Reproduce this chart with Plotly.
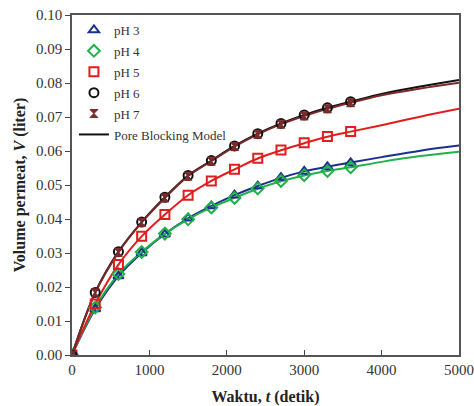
import plotly.graph_objects as go

# Measured data (time in seconds, volume in liters)
t_data = [0, 300, 600, 900, 1200, 1500, 1800, 2100, 2400, 2700, 3000, 3300, 3600]
ph3 = [0, 0.0135, 0.0232, 0.0300, 0.0355, 0.0402, 0.0438, 0.0470, 0.0497, 0.0522, 0.0540, 0.0553, 0.0565]
ph4 = [0, 0.0140, 0.0238, 0.0303, 0.0357, 0.0399, 0.0434, 0.0462, 0.0490, 0.0512, 0.0529, 0.0541, 0.0552]
ph5 = [0, 0.0150, 0.0266, 0.0349, 0.0413, 0.0470, 0.0512, 0.0546, 0.0579, 0.0603, 0.0624, 0.0643, 0.0657]
ph6 = [0, 0.0184, 0.0304, 0.0391, 0.0464, 0.0528, 0.0572, 0.0615, 0.0651, 0.0681, 0.0706, 0.0727, 0.0745]
ph7 = [0, 0.0183, 0.0302, 0.0390, 0.0462, 0.0526, 0.0570, 0.0613, 0.0649, 0.0679, 0.0703, 0.0724, 0.0742]

# Pore blocking model curves
t_model = [0, 300, 600, 900, 1200, 1500, 1800, 2100, 2400, 2700, 3000, 3300, 3600, 4000, 4500, 5000]
m_ph3 = [0, 0.0135, 0.0232, 0.0300, 0.0356, 0.0402, 0.0438, 0.0470, 0.0497, 0.0521, 0.0540, 0.0554, 0.0566, 0.0582, 0.0601, 0.0616]
m_ph4 = [0, 0.0140, 0.0238, 0.0303, 0.0357, 0.0399, 0.0434, 0.0462, 0.0489, 0.0511, 0.0528, 0.0541, 0.0552, 0.0568, 0.0585, 0.0598]
m_ph5 = [0, 0.0150, 0.0266, 0.0349, 0.0413, 0.0470, 0.0512, 0.0546, 0.0578, 0.0602, 0.0623, 0.0642, 0.0657, 0.0676, 0.0701, 0.0724]
m_ph6 = [0, 0.0184, 0.0304, 0.0391, 0.0464, 0.0528, 0.0572, 0.0615, 0.0651, 0.0681, 0.0706, 0.0727, 0.0745, 0.0768, 0.0790, 0.0809]
m_ph7 = [0, 0.0183, 0.0302, 0.0390, 0.0462, 0.0526, 0.0570, 0.0613, 0.0649, 0.0679, 0.0703, 0.0724, 0.0742, 0.0764, 0.0784, 0.0801]

x_ticks = [0, 1000, 2000, 3000, 4000, 5000]
y_ticks = [0.00, 0.01, 0.02, 0.03, 0.04, 0.05, 0.06, 0.07, 0.08, 0.09, 0.10]

series = [
    ("pH 3", ph3, m_ph3, "#1c2f8c", "triangle-up-open"),
    ("pH 4", ph4, m_ph4, "#21b14b", "diamond-open"),
    ("pH 5", ph5, m_ph5, "#e01e1e", "square-open"),
    ("pH 6", ph6, m_ph6, "#111111", "circle-open"),
    ("pH 7", ph7, m_ph7, "#7b2a2a", "hourglass"),
]

fig = go.Figure()
# model lines
for name, d, m, col, sym in series:
    fig.add_trace(go.Scatter(x=t_model, y=m, mode="lines", line=dict(color=col, width=2, shape="spline"),
                             showlegend=False, hoverinfo="skip"))
# data markers
for name, d, m, col, sym in series:
    fig.add_trace(go.Scatter(x=t_data, y=d, mode="markers", name=name, legendgroup=name,
                             marker=dict(symbol=sym, size=9 if sym != "hourglass" else 8, color=col,
                                         line=dict(color=col, width=2 if sym != "hourglass" else 1))))
fig.add_trace(go.Scatter(x=[None], y=[None], mode="lines", name="Pore Blocking Model", legendgroup="model",
                         line=dict(color="#111111", width=2)))

font_family = "Liberation Serif"
fig.update_layout(
    width=474, height=406,
    margin=dict(l=72, r=15, t=15, b=51, autoexpand=False),
    paper_bgcolor="white", plot_bgcolor="white",
    font=dict(family=font_family, size=15, color="#333333"),
    legend=dict(x=0.005, y=1.0, xanchor="left", yanchor="top", bgcolor="rgba(0,0,0,0)",
                font=dict(size=13, color="#333333"), tracegroupgap=1),
    xaxis=dict(range=[0, 5000], tickvals=x_ticks, ticks="inside", ticklen=5, tickcolor="#444",
               showline=True, linecolor="#555", linewidth=1.5, mirror=True, showgrid=False, zeroline=False,
               automargin=False,
               title=dict(text="<b>Waktu, <i>t</i> (detik)</b>", font=dict(size=16, color="#222"), standoff=16),
               tickfont=dict(size=15)),
    yaxis=dict(range=[0, 0.10], tickvals=y_ticks, tickformat=".2f", ticks="outside", ticklen=5, tickcolor="#444",
               showline=True, linecolor="#555", linewidth=1.5, mirror=True, showgrid=False, zeroline=False,
               automargin=False,
               title=dict(text="<b>Volume permeat, <i>V</i> (liter)</b>", font=dict(size=16, color="#222"), standoff=6),
               tickfont=dict(size=15)),
)

fig.write_html("out.html", config={"displayModeBar": False},
               post_script="document.body.style.margin='0';document.body.style.overflow='hidden';")
